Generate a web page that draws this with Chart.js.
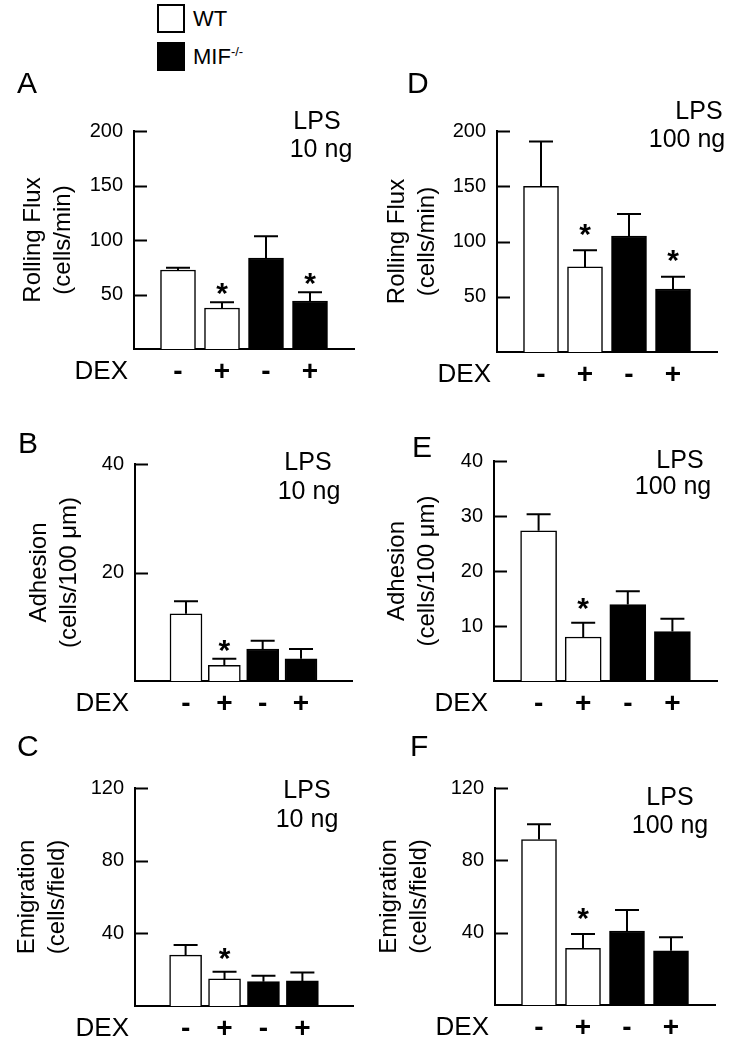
<!DOCTYPE html>
<html>
<head>
<meta charset="utf-8">
<script src="https://cdn.jsdelivr.net/npm/chart.js@4"></script>
<style>
  body { margin: 0; background: #fff; font-family: 'Liberation Sans', Arial, sans-serif; }
  #page { position: relative; width: 730px; height: 1050px; overflow: hidden; }
  canvas { position: absolute; }
  .key { position: absolute; left: 157px; width: 24px; height: 25px; border: 2px solid #000; }
  .keyText { position: absolute; left: 193px; font-size: 22px; line-height: 22px; color: #000; }
  .keyText sup { font-size: 13px; vertical-align: 0; position: relative; top: -8px; }
</style>
</head>
<body>
<div id="page">
  <div class="key" style="top:4px;background:#fff"></div>
  <div class="keyText" style="top:8px">WT</div>
  <div class="key" style="top:42px;background:#000"></div>
  <div class="keyText" style="top:46px">MIF<sup>-/-</sup></div>
</div>
<script>
const dexSigns = ['-', '+', '-', '+'];
const groupColors = ['#ffffff', '#ffffff', '#000000', '#000000'];

// A: rolling flux, LPS 10 ng
const rollLowMean = [72.5, 37.6, 83.5, 44];
const rollLowSem = [2, 5.2, 20, 8];
const rollLowStar = [false, true, false, true];
// D: rolling flux, LPS 100 ng
const rollHighMean = [150, 77, 105, 57];
const rollHighSem = [40.6, 15, 20, 11];
const rollHighStar = [false, true, false, true];
// B: adhesion, LPS 10 ng
const adhLowMean = [12.4, 2.9, 5.9, 4.1];
const adhLowSem = [2.3, 1.2, 1.5, 1.8];
const adhLowStar = [false, true, false, false];
// E: adhesion, LPS 100 ng
const adhHighMean = [27.3, 8, 13.9, 9];
const adhHighSem = [3, 2.6, 2.4, 2.3];
const adhHighStar = [false, true, false, false];
// C: emigration, LPS 10 ng
const emiLowMean = [28, 14.9, 13.4, 13.8];
const emiLowSem = [5.6, 4, 3.3, 4.6];
const emiLowStar = [false, true, false, false];
// F: emigration, LPS 100 ng
const emiHighMean = [91.5, 31.3, 40.9, 30];
const emiHighSem = [8.5, 7.9, 11.6, 7.4];
const emiHighStar = [false, true, false, false];

const rollTitle = ['Rolling Flux', '(cells/min)'];
const adhTitle = ['Adhesion', '(cells/100 \u03bcm)'];
const emiTitle = ['Emigration', '(cells/field)'];

const FONT = "'Liberation Sans', Arial, sans-serif";
Chart.defaults.font.family = FONT;
Chart.defaults.color = '#000';

// layout of every panel on the page (pixels)
const panels = [
  { letter: 'A', mean: rollLowMean, sem: rollLowSem, star: rollLowStar, title: rollTitle, dose: '10 ng',
    max: 200, step: 50, left: 0, cTop: 62, cH: 330, axisX: 134, axisEnd: 354, top: 131, bottom: 349,
    xMin: 0, xMax: 5, bw: 35, titlePad: 18, letterPos: [17, 85], lpsPos: [317, 122], dosePos: [321, 150], starGap: 17 },
  { letter: 'D', mean: rollHighMean, sem: rollHighSem, star: rollHighStar, title: rollTitle, dose: '100 ng',
    max: 200, step: 50, left: 365, cTop: 62, cH: 330, axisX: 497, axisEnd: 717, top: 131, bottom: 352,
    xMin: 0, xMax: 5, bw: 35, titlePad: 17, letterPos: [407, 85], lpsPos: [699, 112], dosePos: [687, 140], starGap: 24 },
  { letter: 'B', mean: adhLowMean, sem: adhLowSem, star: adhLowStar, title: adhTitle, dose: '10 ng',
    max: 40, step: 20, left: 0, cTop: 420, cH: 310, axisX: 135, axisEnd: 352, top: 464, bottom: 681,
    xMin: -0.33, xMax: 5.33, bw: 32, titlePad: 24, letterPos: [18, 445], lpsPos: [308, 463], dosePos: [309, 492], starGap: 16 },
  { letter: 'E', mean: adhHighMean, sem: adhHighSem, star: adhHighStar, title: adhTitle, dose: '100 ng',
    max: 40, step: 10, left: 365, cTop: 420, cH: 310, axisX: 494, axisEnd: 717, top: 461, bottom: 681,
    xMin: 0, xMax: 5, bw: 36, titlePad: 17, letterPos: [412, 449], lpsPos: [680, 461], dosePos: [673, 487], starGap: 22 },
  { letter: 'C', mean: emiLowMean, sem: emiLowSem, star: emiLowStar, title: emiTitle, dose: '10 ng',
    max: 120, step: 40, left: 0, cTop: 730, cH: 320, axisX: 135, axisEnd: 353, top: 788, bottom: 1006,
    xMin: -0.3, xMax: 5.3, bw: 32, titlePad: 12, letterPos: [17, 748], lpsPos: [307, 791], dosePos: [307, 820], starGap: 21 },
  { letter: 'F', mean: emiHighMean, sem: emiHighSem, star: emiHighStar, title: emiTitle, dose: '100 ng',
    max: 120, step: 40, left: 365, cTop: 730, cH: 320, axisX: 495, axisEnd: 715, top: 788, bottom: 1005,
    xMin: 0, xMax: 5, bw: 35, titlePad: 9, letterPos: [410, 748], lpsPos: [670, 798], dosePos: [670, 826], starGap: 24 }
];

const signFont = { size: 28, weight: 'bold' };
const signPad = 6;

// error bars, inward ticks, asterisks and the text around each panel
const panelDecor = {
  id: 'panelDecor',
  afterDraw(chart, args, p) {
    const ctx = chart.ctx;
    const xs = chart.scales.x, ys = chart.scales.y;
    const area = chart.chartArea;
    const meta = chart.getDatasetMeta(0);
    ctx.save();
    ctx.strokeStyle = '#000';
    ctx.fillStyle = '#000';
    ctx.lineWidth = 2;
    ys.ticks.forEach(t => {
      const py = Math.round(ys.getPixelForValue(t.value)) + 0.5;
      ctx.beginPath();
      ctx.moveTo(area.left, py);
      ctx.lineTo(area.left + 13, py);
      ctx.stroke();
    });
    meta.data.forEach((bar, i) => {
      const top = ys.getPixelForValue(p.mean[i] + p.sem[i]);
      ctx.beginPath();
      ctx.moveTo(bar.x, bar.y);
      ctx.lineTo(bar.x, top);
      ctx.moveTo(bar.x - 12, top);
      ctx.lineTo(bar.x + 12, top);
      ctx.stroke();
      if (p.star[i]) {
        ctx.font = 'bold 30px ' + FONT;
        ctx.textAlign = 'center';
        ctx.textBaseline = 'alphabetic';
        ctx.fillText('*', bar.x, top - p.starGap + 0.58 * 30);
      }
    });
    const ox = p.left, oy = p.cTop;
    ctx.textBaseline = 'middle';
    ctx.font = '30px ' + FONT;
    ctx.textAlign = 'left';
    ctx.fillText(p.letter, p.letterPos[0] - ox, p.letterPos[1] - oy);
    ctx.font = '25px ' + FONT;
    ctx.textAlign = 'center';
    ctx.fillText('LPS', p.lpsPos[0] - ox, p.lpsPos[1] - oy);
    ctx.fillText(p.dose, p.dosePos[0] - ox, p.dosePos[1] - oy);
    ctx.font = '26px ' + FONT;
    ctx.textAlign = 'right';
    const lh = signFont.size * 1.2;
    ctx.fillText('DEX', area.left - 6, xs.top + signPad + lh / 2);
    ctx.restore();
  }
};

const page = document.getElementById('page');
panels.forEach(p => {
  const cv = document.createElement('canvas');
  cv.width = 365;
  cv.height = p.cH;
  cv.style.left = p.left + 'px';
  cv.style.top = p.cTop + 'px';
  page.appendChild(cv);

  new Chart(cv.getContext('2d'), {
    type: 'bar',
    data: {
      datasets: [{
        data: p.mean.map((v, i) => ({ x: i + 1, y: v })),
        backgroundColor: groupColors,
        borderColor: '#000',
        borderWidth: 1.5,
        barThickness: p.bw
      }]
    },
    plugins: [panelDecor],
    options: {
      responsive: false,
      devicePixelRatio: 1,
      animation: false,
      layout: { padding: { left: 0, right: p.left + 365 - p.axisEnd, top: p.top - p.cTop, bottom: 0 } },
      plugins: {
        legend: { display: false },
        tooltip: { enabled: false },
        panelDecor: p
      },
      scales: {
        x: {
          type: 'linear',
          offset: false,
          min: p.xMin,
          max: p.xMax,
          grid: { display: false, drawTicks: false, offset: false },
          border: { display: true, color: '#000', width: 2 },
          afterBuildTicks: s => { s.ticks = [1, 2, 3, 4].map(v => ({ value: v })); },
          afterFit: s => { s.height = p.cH - (p.bottom - p.cTop); },
          ticks: {
            autoSkip: false,
            maxRotation: 0,
            padding: signPad,
            font: signFont,
            color: '#000',
            callback: v => dexSigns[Math.round(v) - 1]
          }
        },
        y: {
          min: 0,
          max: p.max,
          grid: { display: false, drawTicks: false },
          border: { display: true, color: '#000', width: 2 },
          afterBuildTicks: s => { s.ticks = s.ticks.filter(t => t.value > 0); },
          afterFit: s => { s.width = p.axisX - p.left; },
          ticks: { stepSize: p.step, padding: 11, font: { size: 20 }, color: '#000' },
          title: {
            display: true,
            text: p.title,
            color: '#000',
            font: { size: 24, lineHeight: 1.25 },
            padding: { top: p.titlePad, bottom: 0 }
          }
        }
      }
    }
  });
});
</script>
</body>
</html>
